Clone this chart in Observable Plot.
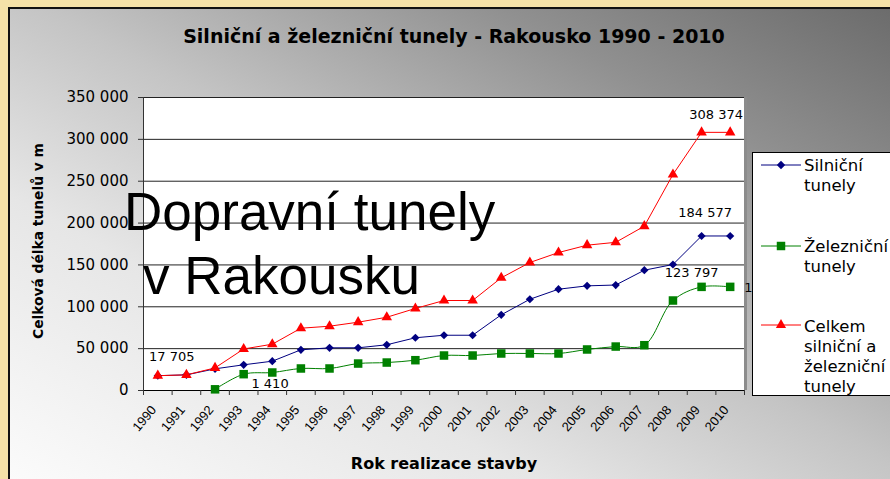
<!DOCTYPE html>
<html>
<head>
<meta charset="utf-8">
<script src="https://cdn.jsdelivr.net/npm/d3@7"></script>
<script src="https://cdn.jsdelivr.net/npm/@observablehq/plot@0.6"></script>
<style>
  html, body { margin: 0; padding: 0; background: #F5E2A8; }
  #wrap { position: relative; width: 890px; height: 479px; overflow: hidden; background: #F5E2A8; }
  #bg { position: absolute; left: 8px; top: 7px; right: 0; bottom: 0;
        border-left: 2px solid #111; border-top: 2px solid #111;
        background: linear-gradient(to top right, #fbfbfb 0%, #e6e6e6 30%, #c4c4c4 52%, #909090 78%, #6c6c6c 100%); }
  #chart { position: absolute; left: 0; top: 0; }
  #overlay { position: absolute; left: 0; top: 0; pointer-events: none; }
  #legend { position: absolute; left: 752px; top: 152px; width: 160px; height: 242px;
            background: #fff; border: 1.5px solid #000; font-family: "DejaVu Sans", sans-serif;
            font-size: 16.5px; line-height: 20px; color: #000; }
  #legend .txt { position: absolute; left: 51px; white-space: nowrap; }
  #legend svg { position: absolute; left: 7px; }
</style>
</head>
<body>
<div id="wrap">
  <div id="bg"></div>
  <div id="chart"></div>
  <svg id="overlay" width="890" height="479"></svg>
  <div id="legend"></div>
</div>
<script>
// ---- data ----
const years = [1990, 1991, 1992, 1993, 1994, 1995, 1996, 1997, 1998, 1999, 2000,
               2001, 2002, 2003, 2004, 2005, 2006, 2007, 2008, 2009, 2010];
const silnicni = [17705, 18700, 25900, 30700, 35000, 48600, 51000, 51000, 54600, 63000, 66000,
                  66000, 90400, 109000, 121000, 125000, 126000, 143700, 150500, 184577, 184577];
const zeleznicni = [null, null, 1410, 19500, 21500, 26300, 26300, 32200, 33400, 36200, 41800,
                    41800, 44200, 44200, 44200, 49000, 52500, 54100, 107500, 123797, 123797];
const celkem = [17705, 18700, 27000, 49600, 55300, 74400, 76800, 81600, 87500, 98000, 107500,
                107500, 134600, 152900, 164800, 173600, 177000, 196300, 258000, 308374, 308374];
const yTicks = [0, 50000, 100000, 150000, 200000, 250000, 300000, 350000];
const seriesNames = ["Silniční tunely", "Železniční tunely", "Celkem silniční a železniční tunely"];
const legendLines = [["Silniční", "tunely"], ["Železniční", "tunely"], ["Celkem", "silniční a", "železniční", "tunely"]];
const chartTitle = "Silniční a železniční tunely - Rakousko 1990 - 2010";
const yTitle = "Celková délka tunelů v m";
const xTitle = "Rok realizace stavby";
const slideTitle = ["Dopravní tunely", "v Rakousku"];

// ---- build ----
const colors = ["#000080", "#008000", "#FF0000"];
const symbols = ["diamond2", "square", "triangle"];
const fmt = v => d3.format(",")(v).replace(/,/g, " ");

const rows = (arr, s) => years.map((year, i) => ({year, value: arr[i], series: s})).filter(d => d.value != null);
const road = rows(silnicni, seriesNames[0]);
const rail = rows(zeleznicni, seriesNames[1]);
const total = rows(celkem, seriesNames[2]);

const xDomain = [years[0] - 0.5, years[years.length - 1] + 0.5];
const boundaries = years.map(y => y - 0.5).concat([xDomain[1]]);
const yDomain = [yTicks[0], yTicks[yTicks.length - 1]];

const pick = (data, year) => data.filter(d => d.year === year);
const labelStyle = {fontFamily: "DejaVu Sans, sans-serif", fontSize: 13, fill: "#000"};

const chart = Plot.plot({
  width: 890, height: 479,
  marginLeft: 143, marginRight: 146, marginTop: 97, marginBottom: 89,
  style: {background: "transparent", overflow: "visible"},
  x: {type: "linear", domain: xDomain, label: null},
  y: {domain: yDomain, label: null},
  marks: [
    Plot.frame({fill: "white", stroke: "#999"}),
    Plot.gridY({ticks: yTicks, stroke: "#222", strokeOpacity: 1}),
    Plot.ruleX([xDomain[1]], {stroke: "#8c8c8c", strokeWidth: 3, dx: 1}),
    Plot.ruleX([xDomain[0]], {stroke: "#333"}),
    Plot.ruleY([yDomain[0]], {stroke: "#000"}),
    Plot.line(road, {x: "year", y: "value", stroke: colors[0], strokeWidth: 1}),
    Plot.line(rail, {x: "year", y: "value", stroke: colors[1], strokeWidth: 1, curve: "catmull-rom"}),
    Plot.line(total, {x: "year", y: "value", stroke: colors[2], strokeWidth: 1}),
    Plot.dot(road, {x: "year", y: "value", fill: colors[0], symbol: symbols[0], r: 3.7, stroke: "none"}),
    Plot.dot(rail, {x: "year", y: "value", fill: colors[1], symbol: symbols[1], r: 4.8, stroke: "none"}),
    Plot.dot(total, {x: "year", y: "value", fill: colors[2], symbol: symbols[2], r: 3.9, stroke: "none"}),
    // data labels
    Plot.text(pick(total, years[0]), {x: "year", y: "value", text: d => fmt(d.value), dx: 14, dy: -19, ...labelStyle}),
    Plot.text(pick(rail, 1992), {x: "year", y: "value", text: d => fmt(d.value), dx: 55, dy: -5, ...labelStyle}),
    Plot.text(pick(total, 2010), {x: "year", y: "value", text: d => fmt(d.value), dx: -14, dy: -18, ...labelStyle}),
    Plot.text(pick(road, 2010), {x: "year", y: "value", text: d => fmt(d.value), dx: -25, dy: -23, ...labelStyle}),
    Plot.text(pick(rail, 2009), {x: "year", y: "value", text: d => fmt(d.value), dx: -10, dy: -14, ...labelStyle}),
    Plot.text(pick(rail, 2010), {x: "year", y: "value", text: d => fmt(d.value), dx: 14, dy: 1, textAnchor: "start", ...labelStyle}),
    // axes
    Plot.axisY({ticks: yTicks, tickSize: 5, tickPadding: 10, tickFormat: fmt,
                fontSize: 15, fontFamily: "DejaVu Sans, sans-serif", stroke: "#333"}),
    Plot.axisX({ticks: boundaries, tickSize: 5, tickFormat: () => "", stroke: "#333"}),
    Plot.axisX({ticks: years, tickSize: 0, tickPadding: 8, tickRotate: -50, tickFormat: d => String(d),
                dx: -4, dy: 9, fontSize: 13, fontFamily: "Liberation Sans, Arial, sans-serif"})
  ]
});
document.getElementById("chart").appendChild(chart);

// ---- overlay texts ----
const ov = d3.select("#overlay");
ov.append("text").attr("x", 454).attr("y", 43).attr("text-anchor", "middle")
  .attr("font-family", "DejaVu Sans, sans-serif").attr("font-weight", "bold").attr("font-size", 19)
  .text(chartTitle);
ov.append("text").attr("transform", "translate(43,241) rotate(-90)").attr("text-anchor", "middle")
  .attr("font-family", "DejaVu Sans, sans-serif").attr("font-weight", "bold").attr("font-size", 13.8)
  .text(yTitle);
ov.append("text").attr("x", 444).attr("y", 469).attr("text-anchor", "middle")
  .attr("font-family", "DejaVu Sans, sans-serif").attr("font-weight", "bold").attr("font-size", 16)
  .text(xTitle);
ov.append("text").attr("x", 124).attr("y", 230)
  .attr("font-family", "Liberation Sans, Arial, sans-serif").attr("font-size", 53).text(slideTitle[0]);
ov.append("text").attr("x", 143).attr("y", 294)
  .attr("font-family", "Liberation Sans, Arial, sans-serif").attr("font-size", 53).text(slideTitle[1]);

// ---- legend ----
const legend = d3.select("#legend");
const entryTops = [3, 84, 164];
const symbolY = [12, 93, 172];
seriesNames.forEach((name, i) => {
  const s = legend.append("svg").attr("width", 42).attr("height", 14).style("top", (symbolY[i] - 7) + "px");
  s.append("line").attr("x1", 1).attr("x2", 41).attr("y1", 7).attr("y2", 7).attr("stroke", colors[i]).attr("stroke-width", 1);
  s.append("path").attr("transform", "translate(21,7)").attr("fill", colors[i])
    .attr("d", d3.symbol(i === 0 ? d3.symbolDiamond2 : i === 1 ? d3.symbolSquare : d3.symbolTriangle, i === 1 ? 72 : 45)());
  legend.append("div").attr("class", "txt").attr("title", name).style("top", entryTops[i] + "px")
    .html(legendLines[i].join("<br>"));
});
</script>
</body>
</html>
